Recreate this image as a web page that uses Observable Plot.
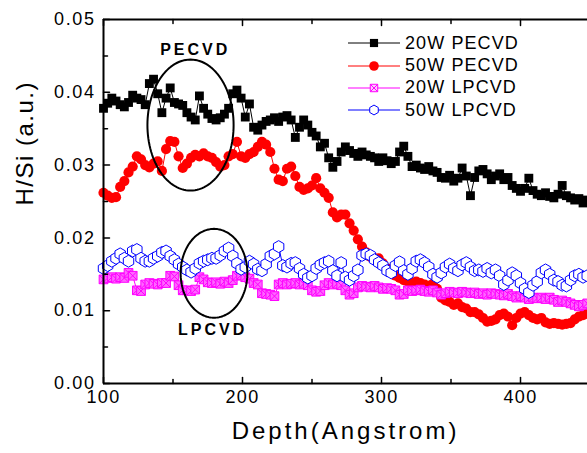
<!DOCTYPE html>
<html>
<head>
<meta charset="utf-8">
<script src="https://cdn.jsdelivr.net/npm/d3@7"></script>
<script src="https://cdn.jsdelivr.net/npm/@observablehq/plot@0.6"></script>
<style>
  html, body { margin: 0; padding: 0; background: #fff; overflow: hidden; }
  #wrap { position: relative; width: 587px; height: 453px; }
  svg text { font-family: "Liberation Sans", Arial, sans-serif; }
  g[aria-description="ytl"] text { letter-spacing: 1.6px; }
  g[aria-description="xtl"] text { letter-spacing: 1.4px; }
  g[aria-description="xtitle"] text { letter-spacing: 3px; }
  g[aria-description="ytitle"] text { letter-spacing: 1.5px; }
  g[aria-description="annot"] text { letter-spacing: 3px; }
  #legend { position: absolute; left: 348px; top: 32px; font-family: "Liberation Sans", Arial, sans-serif; font-size: 18px; letter-spacing: 1.1px; color: #000; }
  #legend .row { display: flex; align-items: center; height: 22.4px; }
  #legend svg { display: block; margin-right: 5px; }
</style>
</head>
<body>
<div id="wrap"></div>
<script>
// ---- data ----
const depths = [100,103,106,109,112,115,118,121,124,127,130,133,136,139,142,145,148,151,154,157,160,163,166,169,172,175,178,181,184,187,190,193,196,199,202,205,208,211,214,217,220,223,226,229,232,235,238,241,244,247,250,253,256,259,262,265,268,271,274,277,280,283,286,289,292,295,298,301,304,307,310,313,316,319,322,325,328,331,334,337,340,343,346,349,352,355,358,361,364,367,370,373,376,379,382,385,388,391,394,397,400,403,406,409,412,415,418,421,424,427,430,433,436,439,442,445,448];

const pecvd20W = [
0.0378,0.0385,0.0392,0.0388,0.0383,0.038,0.0386,0.0396,0.0392,0.039,
0.0383,0.0412,0.0418,0.0398,0.0372,0.0392,0.0406,0.0386,0.0384,0.0382,
0.0372,0.0366,0.0362,0.0395,0.0378,0.037,0.0364,0.0362,0.0365,0.037,
0.0378,0.0398,0.0403,0.0392,0.0366,0.0384,0.0352,0.0348,0.0355,0.036,
0.0362,0.0365,0.036,0.0366,0.0368,0.0362,0.0338,0.0352,0.0362,0.0355,
0.0345,0.034,0.0325,0.033,0.031,0.0297,0.0305,0.0318,0.0325,0.032,
0.0316,0.0312,0.0318,0.0314,0.0312,0.031,0.0305,0.031,0.0306,0.0302,
0.0305,0.0318,0.0326,0.0312,0.0298,0.03,0.0296,0.0294,0.0298,0.0292,
0.029,0.0283,0.0282,0.0286,0.0278,0.0282,0.0296,0.0285,0.0258,0.0283,
0.0292,0.0294,0.0288,0.028,0.0285,0.0288,0.028,0.0283,0.0272,0.0268,
0.0264,0.0268,0.0282,0.0265,0.026,0.0258,0.0262,0.0257,0.0255,0.026,
0.0272,0.0258,0.0255,0.0252,0.0254,0.0248,0.0252];

const pecvd50W = [
0.0262,0.0258,0.0255,0.0256,0.027,0.0278,0.029,0.0298,0.0312,0.0308,
0.03,0.0297,0.0302,0.0305,0.0292,0.0322,0.0333,0.0332,0.0312,0.0296,
0.0302,0.031,0.0314,0.0312,0.0316,0.0312,0.031,0.0304,0.0298,0.03,
0.0312,0.0315,0.0332,0.0312,0.031,0.0315,0.0318,0.0325,0.0332,0.0328,
0.0318,0.0295,0.028,0.0278,0.0295,0.0298,0.0285,0.027,0.0266,0.0268,
0.0272,0.0282,0.0268,0.0262,0.0255,0.0235,0.0228,0.0232,0.0232,0.022,
0.021,0.0198,0.0188,0.018,0.0174,0.0172,0.0172,0.0165,0.0158,0.0153,
0.0148,0.0145,0.0142,0.014,0.0138,0.014,0.0138,0.0136,0.0134,0.0137,
0.013,0.0118,0.0114,0.0112,0.0108,0.011,0.0105,0.0103,0.0098,0.0098,
0.0095,0.009,0.0085,0.0086,0.0088,0.0094,0.0096,0.0092,0.008,0.009,
0.0096,0.0098,0.0094,0.009,0.0088,0.009,0.0084,0.0082,0.0083,0.0082,
0.0081,0.0082,0.0083,0.0088,0.0092,0.0094,0.0096];

const lpcvd20W = [
0.0143,0.0145,0.0146,0.0144,0.0146,0.0145,0.0152,0.0148,0.0128,0.0127,
0.0136,0.0138,0.0137,0.0136,0.0138,0.0138,0.0148,0.0147,0.0135,0.0128,
0.0128,0.0127,0.0129,0.0146,0.0143,0.0139,0.0138,0.0139,0.0137,0.014,
0.0138,0.0142,0.0148,0.0149,0.0146,0.0144,0.0138,0.0136,0.0124,0.0123,
0.0122,0.012,0.0136,0.0138,0.0136,0.0137,0.0138,0.0136,0.0137,0.0135,
0.0128,0.0126,0.0127,0.0135,0.0138,0.0136,0.0137,0.0135,0.0128,0.0122,
0.0124,0.0132,0.0134,0.0133,0.0132,0.0134,0.0132,0.013,0.0131,0.013,
0.0128,0.0122,0.0123,0.0128,0.0127,0.0128,0.0129,0.0127,0.0126,0.0128,
0.0125,0.0122,0.0124,0.0126,0.0125,0.0124,0.0126,0.0125,0.0124,0.0125,
0.0123,0.0124,0.0122,0.0124,0.0123,0.0122,0.0121,0.0123,0.012,0.0118,
0.012,0.0118,0.0116,0.0118,0.0117,0.0118,0.0116,0.0118,0.0115,0.0112,
0.0114,0.0112,0.011,0.0108,0.0106,0.0108,0.011];

const lpcvd50W = [
0.0158,0.0162,0.0168,0.0172,0.0178,0.0172,0.0168,0.0182,0.0184,0.0172,
0.0168,0.0168,0.0172,0.0175,0.018,0.0182,0.0175,0.017,0.0164,0.016,
0.0156,0.0153,0.0158,0.0165,0.0168,0.017,0.0172,0.0172,0.0176,0.0182,
0.0186,0.0175,0.0165,0.0157,0.016,0.0168,0.0164,0.0157,0.0155,0.0164,
0.0175,0.0178,0.0188,0.0162,0.016,0.0165,0.0166,0.0158,0.015,0.0145,
0.0148,0.0158,0.0163,0.0166,0.0168,0.0155,0.0148,0.0166,0.0146,0.0142,
0.0148,0.0156,0.0176,0.0178,0.0176,0.017,0.0166,0.0162,0.0155,0.0152,
0.0162,0.0167,0.0155,0.015,0.0158,0.0168,0.017,0.0166,0.016,0.015,
0.0146,0.0152,0.016,0.0164,0.0158,0.0155,0.0163,0.0166,0.016,0.0155,
0.0156,0.0154,0.0158,0.0152,0.0156,0.0148,0.0136,0.0142,0.0152,0.0148,
0.0138,0.013,0.0125,0.0135,0.014,0.0152,0.0156,0.015,0.0142,0.014,
0.0135,0.0134,0.0142,0.0148,0.015,0.0146,0.0148];

const seriesNames = ["20W PECVD", "50W PECVD", "20W LPCVD", "50W LPCVD"];
const xMajorTicks = [100, 200, 300, 400];
const xMinorTicks = [150, 250, 350];
const yMajorTicks = [0, 0.01, 0.02, 0.03, 0.04, 0.05];
const yMinorTicks = [0.005, 0.015, 0.025, 0.035, 0.045];
const xTitle = "Depth(Angstrom)";
const yTitle = "H/Si (a.u.)";
// annotation ellipses (centre / radii in data units) and their labels
const ellipses = [
  {id: "PECVD", cx: 162.6, cy: 0.0355, rx: 31, ry: 0.0090},
  {id: "LPCVD", cx: 179.5, cy: 0.01514, rx: 24, ry: 0.0061}
];
const annotLabels = [
  {text: "PECVD", x: 166, y: 0.0458},
  {text: "LPCVD", x: 178.5, y: 0.0074}
];

// ---- styles per series ----
const boxX = {
  draw(ctx, size) {
    const s = Math.sqrt(size) / 2;
    ctx.moveTo(-s, -s); ctx.lineTo(s, -s); ctx.lineTo(s, s); ctx.lineTo(-s, s); ctx.closePath();
    ctx.moveTo(-s, -s); ctx.lineTo(s, s);
    ctx.moveTo(s, -s); ctx.lineTo(-s, s);
  }
};
const styles = [
  {line: "#000", symbol: "square", r: 5.0, fill: "#000", stroke: "none", lr: 4.6},
  {line: "#ff0000", symbol: "circle", r: 5.1, fill: "#ff0000", stroke: "none", lr: 4.8},
  {line: "#ff00ff", symbol: boxX, r: 4.9, fill: "#ff66ff", stroke: "#ff00ff", lr: 4.2, lfill: "#ffc8ff"},
  {line: "#0000ff", symbol: "hexagon", r: 5.2, fill: "#fff", stroke: "#0000ff", lr: 4.7}
];
const valueArrays = [pecvd20W, pecvd50W, lpcvd20W, lpcvd50W];
const tables = valueArrays.map((vals, k) => depths.map((d, i) => ({depth: d, value: vals[i], series: seriesNames[k]})));

const ellipsePts = ellipses.flatMap(e => d3.range(0, 361, 3).map(a => ({
  id: e.id,
  x: e.cx + e.rx * Math.cos(a * Math.PI / 180),
  y: e.cy + e.ry * Math.sin(a * Math.PI / 180)
})));

const tickUp = {draw(ctx, l) { ctx.moveTo(0, 0); ctx.lineTo(0, -l); }};
const tickDown = {draw(ctx, l) { ctx.moveTo(0, 0); ctx.lineTo(0, l); }};
const tickRight = {draw(ctx, l) { ctx.moveTo(0, 0); ctx.lineTo(l, 0); }};

const dataMarks = tables.flatMap((t, k) => {
  const s = styles[k];
  return [
    Plot.line(t, {x: "depth", y: "value", stroke: s.line, strokeWidth: 1}),
    Plot.dot(t, {x: "depth", y: "value", symbol: s.symbol, r: s.r, fill: s.fill, stroke: s.stroke, strokeWidth: 1})
  ];
});

const chart = Plot.plot({
  width: 587,
  height: 453,
  marginLeft: 103,
  marginRight: 0,
  marginTop: 19,
  marginBottom: 70,
  x: {domain: [100, 448.2], axis: null},
  y: {domain: [0, 0.05], axis: null},
  style: {fontFamily: "'Liberation Sans', Arial, sans-serif", color: "#000", background: "#fff"},
  marks: [
    ...dataMarks,
    Plot.line(ellipsePts, {x: "x", y: "y", z: "id", stroke: "#000", strokeWidth: 2}),
    Plot.text(annotLabels, {x: "x", y: "y", text: "text", fontSize: 16, fontWeight: "bold", fill: "#000", ariaDescription: "annot"}),
    // frame lines
    Plot.ruleY([0.05], {stroke: "#000", strokeWidth: 2}),
    Plot.ruleY([0], {stroke: "#000", strokeWidth: 2}),
    Plot.ruleX([100], {stroke: "#000", strokeWidth: 2}),
    // inward ticks
    Plot.vector(xMajorTicks, {x: d => d, frameAnchor: "bottom", length: 6, anchor: "start", shape: tickUp, stroke: "#000", strokeWidth: 1.5}),
    Plot.vector(xMinorTicks, {x: d => d, frameAnchor: "bottom", length: 4, anchor: "start", shape: tickUp, stroke: "#000", strokeWidth: 1.5}),
    Plot.vector(xMajorTicks, {x: d => d, frameAnchor: "top", length: 6, anchor: "start", shape: tickDown, stroke: "#000", strokeWidth: 1.5}),
    Plot.vector(xMinorTicks, {x: d => d, frameAnchor: "top", length: 4, anchor: "start", shape: tickDown, stroke: "#000", strokeWidth: 1.5}),
    Plot.vector(yMajorTicks, {y: d => d, frameAnchor: "left", length: 6, anchor: "start", shape: tickRight, stroke: "#000", strokeWidth: 1.5}),
    Plot.vector(yMinorTicks, {y: d => d, frameAnchor: "left", length: 4, anchor: "start", shape: tickRight, stroke: "#000", strokeWidth: 1.5}),
    // tick labels
    Plot.text(yMajorTicks, {y: d => d, frameAnchor: "left", dx: -8, textAnchor: "end", text: d => d.toFixed(2), fontSize: 18, fill: "#000", ariaDescription: "ytl"}),
    Plot.text(xMajorTicks, {x: d => d, frameAnchor: "bottom", dy: 19, text: d => String(d), fontSize: 18, fill: "#000", ariaDescription: "xtl"}),
    // axis titles
    Plot.text([xTitle], {frameAnchor: "bottom", dy: 55, text: d => d, fontSize: 24, fill: "#000", ariaDescription: "xtitle"}),
    Plot.text([yTitle], {frameAnchor: "left", dx: -78, dy: 4, rotate: -90, text: d => d, fontSize: 24, fill: "#000", ariaDescription: "ytitle"})
  ]
});

const wrap = document.getElementById("wrap");
wrap.appendChild(chart);

// legend overlay inside the plot area
const legend = document.createElement("div");
legend.id = "legend";
seriesNames.forEach((name, k) => {
  const s = styles[k];
  const row = document.createElement("div");
  row.className = "row";
  const sv = d3.create("svg").attr("width", 52).attr("height", 16);
  sv.append("line").attr("x1", 0).attr("x2", 52).attr("y1", 8).attr("y2", 8).attr("stroke", s.line).attr("stroke-width", 1);
  const symType = s.symbol === "square" ? d3.symbolSquare
    : s.symbol === "circle" ? d3.symbolCircle
    : s.symbol === "hexagon" ? {draw(ctx, size) { const r = Math.sqrt(size / Math.PI) * 1.05; for (let i = 0; i < 6; i++) { const a = Math.PI / 2 + i * Math.PI / 3; const px = r * Math.cos(a), py = r * Math.sin(a); if (i === 0) ctx.moveTo(px, py); else ctx.lineTo(px, py); } ctx.closePath(); }}
    : s.symbol;
  sv.append("path")
    .attr("transform", "translate(26,8)")
    .attr("d", d3.symbol(symType, Math.PI * s.lr * s.lr)())
    .attr("fill", s.lfill || s.fill)
    .attr("stroke", s.stroke === "none" ? null : s.stroke)
    .attr("stroke-width", 1);
  row.appendChild(sv.node());
  const span = document.createElement("span");
  span.textContent = name;
  row.appendChild(span);
  legend.appendChild(row);
});
wrap.appendChild(legend);
</script>
</body>
</html>
